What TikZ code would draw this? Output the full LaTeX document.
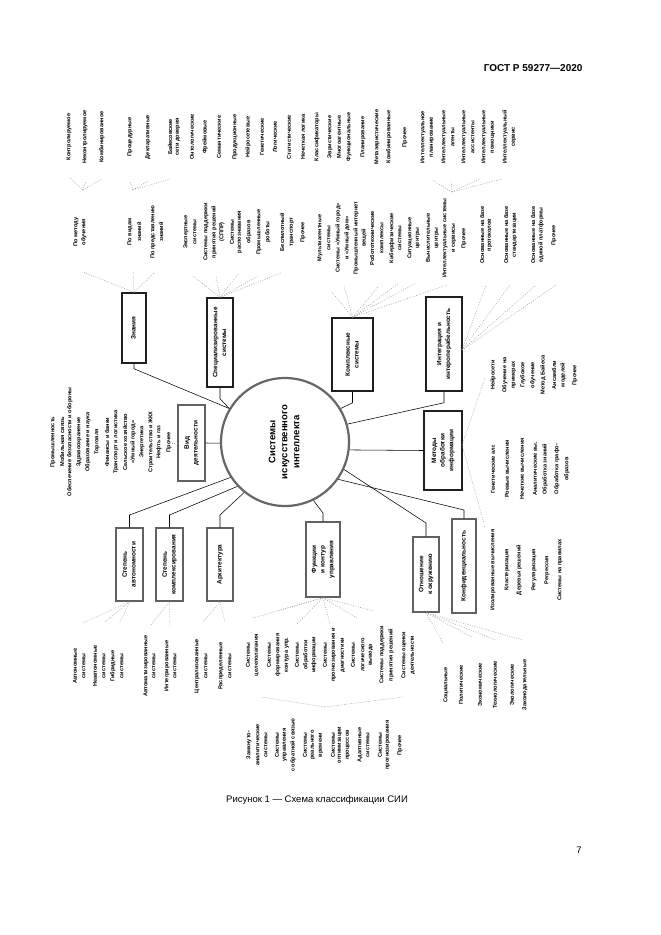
\documentclass[tikz,border=0pt]{standalone}
\usepackage{fontspec}
\setmainfont{Liberation Sans}
\usepackage{graphicx}
\newcommand{\rtxt}[1]{\rotatebox{90}{\begin{tabular}{@{}c@{}}#1\end{tabular}}}
\begin{document}
\begin{tikzpicture}[x=1pt,y=-1pt,
  lab/.style={font=\bfseries\fontsize{5.6}{6}\selectfont, inner sep=0pt},
  rlab/.style={font=\bfseries\fontsize{5.6}{6}\selectfont, inner sep=0pt, rotate=90},
  bt/.style={font=\bfseries\fontsize{6.4}{8.6}\selectfont, align=center},
  bbox/.style={bt, draw=black!88, line width=1.5pt, inner sep=0pt},
  gbox/.style={bt, draw=black!62, line width=1.5pt, inner sep=0pt},
  conn/.style={black, line width=0.55pt},
  fan/.style={black!38, line width=0.5pt, dash pattern=on 0.9pt off 1.5pt}]
\useasboundingbox[fill=white] (0,0) rectangle (661,935);

% header, caption, page number
\node[font=\bfseries\fontsize{10}{12}\selectfont, anchor=east] (hdr) at (586,68) {ГОСТ Р 59277—2020};
\node[font=\fontsize{9.5}{11}\selectfont] (cap) at (317,800) {Рисунок 1 — Схема классификации СИИ};
\node[font=\fontsize{9.5}{11}\selectfont] (pg) at (579,850) {7};

% central circle
\node[circle, draw=black!60, line width=2.2pt, minimum size=128pt, inner sep=0pt,
      font=\bfseries\fontsize{9.5}{12}\selectfont] (circ) at (285,442)
      {\rtxt{Системы\\искусственного\\интеллекта}};

% boxes
\node[bbox, minimum width=24pt, minimum height=70pt] (kn) at (134,328) {\rtxt{Знания}};
\node[bbox, minimum width=26pt, minimum height=89pt] (sys) at (220,342.5) {\rtxt{Специализированные\\системы}};
\node[gbox, line width=1.2pt, minimum width=27pt, minimum height=76pt] (vid) at (191.5,443) {\rtxt{Вид\\деятельности}};
\node[bbox, minimum width=41pt, minimum height=73pt] (kompl) at (352.5,354.5) {\rtxt{Комплексные\\системы}};
\node[bbox, minimum width=36pt, minimum height=94pt] (integ) at (444,344) {\rtxt{Интеграция и\\интероперабельность}};
\node[bbox, minimum width=38pt, minimum height=79pt] (met) at (443,450.5) {\rtxt{Методы\\обработки\\информации}};
\node[gbox, minimum width=24pt, minimum height=94pt] (konf) at (464,566) {\rtxt{Конфиденциальность}};
\node[gbox, minimum width=26pt, minimum height=75pt] (otn) at (426,574.5) {\rtxt{Отношение\\к окружению}};
\node[gbox, minimum width=34pt, minimum height=75pt] (fun) at (323,559.5) {\rtxt{Функции\\и контур\\управления}};
\node[gbox, minimum width=26pt, minimum height=73pt] (arch) at (220,564.5) {\rtxt{Архитектура}};
\node[gbox, minimum width=27pt, minimum height=73pt] (kmp) at (169.5,564.5) {\rtxt{Степень\\комплексирования}};
\node[gbox, minimum width=27pt, minimum height=73pt] (avt) at (129.5,564.5) {\rtxt{Степень\\автономности}};

% connectors circle -> boxes
\draw[conn] (kn.south) -- ++(0,5) -- (circ.149);
\draw[conn] (sys.south) -- ++(0,11) -- (circ.149);
\draw[conn] (vid.east) -- (circ.181);
\draw[conn] (kompl.south) -- ++(0,11) -- (circ.31);
\draw[conn] (integ.south) -- ++(0,11) -- (circ.16);
\draw[conn] (met.west) -- (circ.-7);
\coordinate (eO) at (426,523);
\coordinate (eK) at (464,510);
\coordinate (eF) at (323,513);
\coordinate (eA) at (220,515);
\coordinate (eC) at (169.5,515);
\coordinate (eV) at (129.5,515);
\draw[conn] (circ.-25) -- (eO) -- (otn.north);
\draw[conn] (circ.-35) -- (eK) -- (konf.north);
\draw[conn] (circ.-64) -- (eF) -- (fun.north);
\draw[conn] (circ.231) -- (eA) -- (arch.north);
\draw[conn] (circ.223) -- (eC) -- (kmp.north);
\draw[conn] (circ.213) -- (eV) -- (avt.north);

% labels: top row
\foreach \x/\s [count=\i] in {69/Контролируемое, 85/Неконтролируемое, 102/Комбинированное,
  130/Процедурные, 148/Декларативные, 170/Байесовские, 178/сети доверия, 192/Онтологические,
  205/Фреймовые, 219/Семантические, 235/Продукционные, 248/Нейросетевые, 262/Генетические,
  275/Логические, 289/Статистические, 303/Нечеткая логика, 317/Классификаторы, 330/Эвристические,
  339/Многоагентные, 349/Функциональные, 363/Планирование, 377/Метаэвристические,
  389/Комбинированные, 405/Прочее, 423/Интеллектуальное, 432/планирование, 444/Интеллектуальные,
  453/агенты, 464/Интеллектуальные, 473/ассистенты, 484/Интеллектуальные, 493/помощники,
  505/Интеллектуальный, 514/сервис}
  \node[lab] (tr\i) at (\x,137) {\rotatebox{90}{\s}};

% second row
\foreach \x/\s [count=\i] in {76/По методу, 84/обучения, 130/По видам, 139/знаний,
  153/По представлению, 161/знаний, 186/Экспертные, 195/системы, 206/Системы поддержки,
  214/принятия решений, 222/(СППР), 232/Системы, 240/распознавания, 249/образов,
  259/Промышленные, 268/роботы, 282/Беспилотный, 292/транспорт, 303/Прочее}
  \node[lab] (sa\i) at (\x,232) {\rotatebox{90}{\s}};
\foreach \x/\s [count=\i] in {320/Мультиагентные, 329/системы, 338/Системы «Умный город»,
  347/и «Умный дом», 356/Промышленный интернет, 364/вещей, 372/Робототехнические,
  382/комплексы, 392/Киберфизические, 400/системы, 410/Ситуационные, 418/центры,
  428/Вычислительные, 437/центры, 445/Интеллектуальные системы, 454/и сервисы, 464/Прочее}
  \node[lab] (sc\i) at (\x,238) {\rotatebox{90}{\s}};
\foreach \x/\s [count=\i] in {482/Основанные на базе, 490/протоколов, 506/Основанные на базе,
  515/стандартизации, 533/Основанные на базе, 541/единой платформы, 554/Прочее}
  \node[lab] (sd\i) at (\x,235) {\rotatebox{90}{\s}};

% left group (explicit nodes)
\node[rlab] (lf1) at (53,442) {Промышленность};
\node[rlab] (lf2) at (62,442) {Мобильная связь};
\node[rlab] (lf3) at (70,442) {Обеспечение безопасности и обороны};
\node[rlab] (lf4) at (79,442) {Здравоохранение};
\node[rlab] (lf5) at (88,442) {Образование и наука};
\node[rlab] (lf6) at (97,442) {Торговля};
\node[rlab] (lf7) at (107,442) {Финансы и банки};
\node[rlab] (lf8) at (116,442) {Транспорт и логистика};
\node[rlab] (lf9) at (125,442) {Сельское хозяйство};
\node[rlab] (lf10) at (133,442) {«Умный город»};
\node[rlab] (lf11) at (142,442) {Энергетика};
\node[rlab] (lf12) at (151,442) {Строительство и ЖКХ};
\node[rlab] (lf13) at (159,442) {Нефть и газ};
\node[rlab] (lf14) at (169,442) {Прочее};

% right groups
\foreach \x/\s [count=\i] in {493/Нейросети, 505/Обучение на, 514/примерах, 523/Глубокое,
  533/обучение, 543/Метод Байеса, 554/Ансамбли, 563/моделей, 575/Прочее}
  \node[lab] (ra\i) at (\x,375) {\rotatebox{90}{\s}};
\foreach \x/\s [count=\i] in {493/Генетические алг., 507/Роевые вычисления,
  522/Нечеткие вычисления, 535/Аналитические вы., 545/Обработка знаний,
  557/Обработка графо-, 567/образов}
  \node[lab] (rb\i) at (\x,469) {\rotatebox{90}{\s}};
\foreach \x/\s [count=\i] in {493/Изолированные вычисления, 507/Кластеризация,
  519/Деревья решений, 534/Регуляризация, 547/Регрессия, 560/Системы на правилах}
  \node[lab] (rc\i) at (\x,570) {\rotatebox{90}{\s}};

% bottom groups
\foreach \x/\s [count=\i] in {75/Автономные, 84/системы, 95/Неавтономные, 104/системы,
  113/Гибридные, 122/системы, 146/Автоматизированные, 154/системы, 167/Интегрированные,
  175/системы, 197/Централизованные, 206/системы, 221/Распределенные, 230/системы}
  \node[lab] (ba\i) at (\x,666) {\rotatebox{90}{\s}};
\foreach \x/\s [count=\i] in {248/Системы, 257/целеполагания, 269/Системы, 278/формирования,
  287/контура упр., 297/Системы, 306/обработки, 314/информации, 325/Системы,
  334/прогнозирования и, 343/диагностики, 353/Системы, 363/логического, 371/вывода,
  382/Системы поддержки, 391/принятия решений, 404/Системы оценки, 413/деятельности}
  \node[lab] (bb\i) at (\x,655) {\rotatebox{90}{\s}};
\foreach \x/\s [count=\i] in {249/Замкнуто-, 258/аналитические, 266/системы, 277/Системы,
  285/управления, 293/с обратной связью, 305/Системы, 313/реального, 321/времени,
  333/Системы, 340/оптимизации, 348/процессов, 360/Адаптивные, 368/системы, 380/Системы,
  388/прогнозирования, 400/Прочее}
  \node[lab] (bc\i) at (\x,745) {\rotatebox{90}{\s}};
\foreach \x/\s [count=\i] in {446/Социальные, 461/Политические, 480/Экономические,
  495/Технологические, 512/Экологические, 525/Законодательные}
  \node[lab] (bd\i) at (\x,685) {\rotatebox{90}{\s}};

% dotted fans
\foreach \a/\b in {83/272, 133/272, 155/272} \draw[fan] (kn.north) -- (\a,\b);
\coordinate (hA) at (83,190);
\coordinate (hB) at (133,190);
\coordinate (hG) at (452,192);
\foreach \a/\b in {70/178, 86/181, 102/179} \draw[fan] (hA) -- (\a,\b);
\foreach \a/\b in {130/181, 148/181, 170/179} \draw[fan] (hB) -- (\a,\b);
\foreach \a/\b in {432/180, 451/180, 480/179, 502/179} \draw[fan] (hG) -- (\a,\b);
\foreach \a/\b in {193/276, 216/276, 239/273, 258/276, 281/273} \draw[fan] (sys.north) -- (\a,\b);
\foreach \a/\b in {331/291, 344/286, 378/287, 399/283, 416/283, 447/285} \draw[fan] (kompl.north) -- (\a,\b);
\coordinate (pI) at (462,350);
\foreach \a/\b in {486/285, 510/285, 536/285, 556/285} \draw[fan] (pI) -- (\a,\b);
\coordinate (pM) at (462,445);
\foreach \a/\b in {485/378, 485/527} \draw[fan] (pM) -- (\a,\b);
\draw[fan] (vid.west) -- ++(-6,0);
\foreach \a/\b in {83/623, 105/622, 120/622} \draw[fan] (avt.south) -- (\a,\b);
\foreach \a/\b in {150/626, 170/626} \draw[fan] (kmp.south) -- (\a,\b);
\foreach \a/\b in {203/622, 225/622} \draw[fan] (arch.south) -- (\a,\b);
\foreach \a/\b in {253/618, 277/611, 297/624, 330/624, 357/618, 374/611} \draw[fan] (fun.south) -- (\a,\b);
\coordinate (hF) at (325,707);
\foreach \a/\b in {261/697, 403/697} \draw[fan] (hF) -- (\a,\b);
\foreach \a/\b in {443/643, 472/637, 496/640, 523/640} \draw[fan] (otn.south) -- (\a,\b);
\end{tikzpicture}
\end{document}
